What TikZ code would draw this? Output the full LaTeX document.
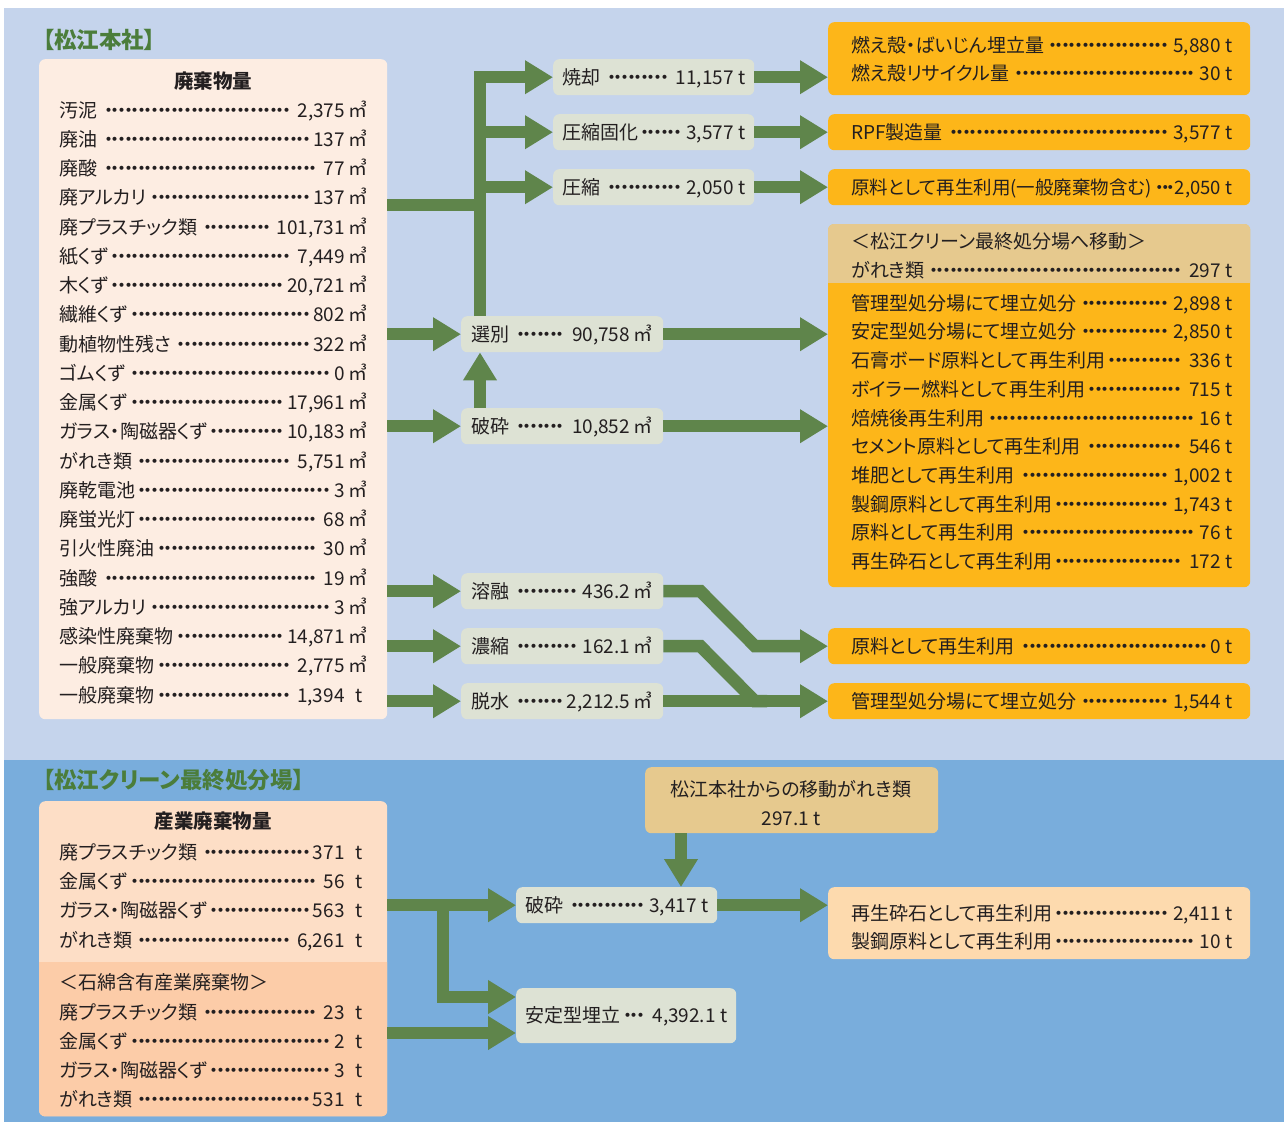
\documentclass[tikz,border=0pt]{standalone}
\usepackage{fontspec}
\setmainfont[RawFeature=+palt]{Noto Sans CJK JP}
\usetikzlibrary{arrows.meta,calc}
\definecolor{bgtop}{HTML}{C5D4EC}
\definecolor{bgbot}{HTML}{79ADDC}
\definecolor{cream}{HTML}{FDEDE2}
\definecolor{pchA}{HTML}{FDDEC6}
\definecolor{pchB}{HTML}{FCCCA8}
\definecolor{procc}{HTML}{DDE2D4}
\definecolor{orng}{HTML}{FDB619}
\definecolor{tanc}{HTML}{E6C98E}
\definecolor{rpeach}{HTML}{FDDAAE}
\definecolor{flowg}{HTML}{5F854B}
\definecolor{titleg}{HTML}{4B7D3B}
\definecolor{ink}{HTML}{231F20}
\newcommand\dleader{\hskip2pt\leaders\hbox to 6.6pt{\hss・\hss}\hfill\hskip2pt}
\newcommand\tdot{\hbox to 5.6pt{\hss・\hss}}
\tikzset{
  box/.style={rounded corners=6pt, inner sep=0pt, anchor=north west, draw=none},
  txt/.style={inner sep=0pt, text=ink, font=\fontsize{19}{21}\selectfont, text height=16pt, text depth=1.6pt},
  hdr/.style={inner sep=0pt, text=ink, font=\fontsize{19.5}{21}\selectfont\bfseries},
  ttl/.style={inner sep=0pt, text=titleg, font=\fontsize{22.5}{24}\selectfont\bfseries, anchor=west},
  flow/.style={draw=flowg, line width=12.5pt, line join=miter},
  arr/.style={flow, -{Triangle[length=28pt,width=32pt]}}
}
\newcommand\boxat[6]{\node[box, fill=#2, minimum width=#5pt, minimum height=#6pt] (#1) at (#3,#4) {};}
\newcommand\lrow[6]{\node[txt, anchor=west] (#1) at (#2,#3) {\hbox to #4pt{#5\dleader#6}};}
\newcommand\ptxt[4]{\node[txt, anchor=west] (#1) at (#2,#3) {#4};}
\begin{document}
\begin{tikzpicture}[x=1pt,y=-1pt]
\useasboundingbox (0,0) rectangle (1284,1122);
\fill[white] (0,0) rectangle (1284,1122);
\fill[bgtop] (4,8) rectangle (1284,760);
\fill[bgbot] (4,760) rectangle (1284,1122);

% ---------- boxes, upper part
\boxat{src}{cream}{39}{59}{348}{660}
\boxat{ash}{procc}{553}{59}{201}{36}
\boxat{comp}{procc}{553}{114}{201}{36}
\boxat{press}{procc}{553}{169}{201}{36}
\boxat{sel}{procc}{461}{316}{202}{36}
\boxat{crush}{procc}{461}{408}{202}{36}
\boxat{melt}{procc}{461}{573}{202}{36}
\boxat{conc}{procc}{461}{628}{202}{36}
\boxat{dewat}{procc}{461}{683}{202}{36}
\boxat{o1}{orng}{828}{22}{422}{73}
\boxat{o2}{orng}{828}{114}{422}{36}
\boxat{o3}{orng}{828}{169}{422}{36}
\boxat{big}{orng}{828}{224}{422}{363}
\begin{scope}
\clip (828,224) rectangle (1250,282);
\fill[tanc, rounded corners=6pt] (big.north west) rectangle (big.south east);
\end{scope}
\boxat{r0}{orng}{828}{628}{422}{36}
\boxat{r1}{orng}{828}{683}{422}{36}

% ---------- boxes, lower part
\boxat{src2}{pchA}{39}{801}{348}{315}
\begin{scope}
\clip (39,962) rectangle (387,1116);
\fill[pchB, rounded corners=6pt] (src2.north west) rectangle (src2.south east);
\end{scope}
\boxat{tan}{tanc}{645}{767}{293}{66}
\boxat{crush2}{procc}{516}{887}{201}{36}
\boxat{stab}{procc}{516}{988}{220}{55}
\boxat{rbox}{rpeach}{828}{887}{422}{72}

% ---------- connectors, upper part
\coordinate (j1) at (480,205);
\draw[flow] (j1 -| src.east) -- ($(j1)+(6.25,0)$);
\draw[arr] (sel.north -| j1) |- (ash.west);
\draw[arr] (comp.west -| j1) -- (comp.west);
\draw[arr] (press.west -| j1) -- (press.west);
\draw[arr] (crush.north -| j1) -- (sel.south -| j1);
\draw[arr] (sel.west -| src.east) -- (sel.west);
\draw[arr] (crush.west -| src.east) -- (crush.west);
\draw[arr] (melt.west -| src.east) -- (melt.west);
\draw[arr] (conc.west -| src.east) -- (conc.west);
\draw[arr] (dewat.west -| src.east) -- (dewat.west);
\draw[arr] (ash.east) -- (ash.east -| o1.west);
\draw[arr] (comp.east) -- (o2.west);
\draw[arr] (press.east) -- (o3.west);
\draw[arr] (sel.east) -- (sel.east -| big.west);
\draw[arr] (crush.east) -- (crush.east -| big.west);
\draw[arr] (melt.east) -- ++(37,0) -- ($(r0.west)+(-73,0)$) -- (r0.west);
\draw[flow] (conc.east) -- ++(37,0) -- ($(r1.west)+(-73,0)$) -- ++(12,0);
\draw[arr] (dewat.east) -- (r1.west);

% ---------- connectors, lower part
\coordinate (j2) at (443,905);
\coordinate (b1) at (516,997);
\coordinate (b2) at (516,1033);
\coordinate (k1) at (681,833);
\draw[arr] (crush2.west -| src2.east) -- (crush2.west);
\draw[arr] (j2) |- (b1);
\draw[arr] (b2 -| src2.east) -- (b2);
\draw[arr] (k1) -- (k1 |- crush2.north);
\draw[arr] (crush2.east) -- (crush2.east -| rbox.west);

% ---------- titles
\node[ttl] (t1) at (43,40) {【松江本社】};
\node[ttl] (t2) at (43,780) {【松江クリーン最終処分場】};

% ---------- source list, upper
\node[hdr] (h1) at (213,81) {廃棄物量};
\lrow{a1}{59}{110}{308}{汚泥}{2,375\,㎥}
\lrow{a2}{59}{139.25}{308}{廃油}{137\,㎥}
\lrow{a3}{59}{168.5}{308}{廃酸}{77\,㎥}
\lrow{a4}{59}{197.75}{308}{廃アルカリ}{137\,㎥}
\lrow{a5}{59}{227}{308}{廃プラスチック類}{101,731\,㎥}
\lrow{a6}{59}{256.25}{308}{紙くず}{7,449\,㎥}
\lrow{a7}{59}{285.5}{308}{木くず}{20,721\,㎥}
\lrow{a8}{59}{314.75}{308}{繊維くず}{802\,㎥}
\lrow{a9}{59}{344}{308}{動植物性残さ}{322\,㎥}
\lrow{a10}{59}{373.25}{308}{ゴムくず}{0\,㎥}
\lrow{a11}{59}{402.5}{308}{金属くず}{17,961\,㎥}
\lrow{a12}{59}{431.75}{308}{ガラス・陶磁器くず}{10,183\,㎥}
\lrow{a13}{59}{461}{308}{がれき類}{5,751\,㎥}
\lrow{a14}{59}{490.25}{308}{廃乾電池}{3\,㎥}
\lrow{a15}{59}{519.5}{308}{廃蛍光灯}{68\,㎥}
\lrow{a16}{59}{548.75}{308}{引火性廃油}{30\,㎥}
\lrow{a17}{59}{578}{308}{強酸}{19\,㎥}
\lrow{a18}{59}{607.25}{308}{強アルカリ}{3\,㎥}
\lrow{a19}{59}{636.5}{308}{感染性廃棄物}{14,871\,㎥}
\lrow{a20}{59}{665.75}{308}{一般廃棄物}{2,775\,㎥}
\lrow{a21}{59}{695}{303}{一般廃棄物}{1,394\hspace{0.55em}t}

% ---------- process texts
\lrow{p1}{562}{77}{183}{焼却}{11,157 t}
\lrow{p2}{562}{132}{183}{圧縮固化}{3,577 t}
\lrow{p3}{562}{187}{183}{圧縮}{2,050 t}
\lrow{p4}{471}{334}{181}{選別}{90,758\,㎥}
\lrow{p5}{471}{426}{181}{破砕}{10,852\,㎥}
\lrow{p6}{471}{591}{181}{溶融}{436.2\,㎥}
\lrow{p7}{471}{646}{181}{濃縮}{162.1\,㎥}
\lrow{p8}{471}{701}{181}{脱水}{2,212.5\,㎥}

% ---------- result texts, upper
\lrow{q1}{851}{45}{381}{燃え殻・ばいじん埋立量}{5,880 t}
\lrow{q2}{851}{73}{381}{燃え殻リサイクル量}{30 t}
\lrow{q3}{851}{132}{381}{RPF製造量}{3,577 t}
\node[txt, anchor=west, font=\fontsize{18.5}{21}\selectfont] (q4) at (851,187) {\hbox to 381pt{原料として再生利用(一般廃棄物含む)\hfill\tdot\tdot\tdot\hskip1pt 2,050 t}};
\ptxt{q5}{851}{241}{＜松江クリーン最終処分場へ移動＞}
\lrow{q6}{851}{270}{381}{がれき類}{297 t}
\lrow{q7}{851}{303}{381}{管理型処分場にて埋立処分}{2,898 t}
\lrow{q8}{851}{331.7}{381}{安定型処分場にて埋立処分}{2,850 t}
\lrow{q9}{851}{360.4}{381}{石膏ボード原料として再生利用}{336 t}
\lrow{q10}{851}{389.1}{381}{ボイラー燃料として再生利用}{715 t}
\lrow{q11}{851}{417.8}{381}{焙焼後再生利用}{16 t}
\lrow{q12}{851}{446.5}{381}{セメント原料として再生利用}{546 t}
\lrow{q13}{851}{475.2}{381}{堆肥として再生利用}{1,002 t}
\lrow{q14}{851}{503.9}{381}{製鋼原料として再生利用}{1,743 t}
\lrow{q15}{851}{532.6}{381}{原料として再生利用}{76 t}
\lrow{q16}{851}{561.3}{381}{再生砕石として再生利用}{172 t}
\lrow{q17}{851}{646}{381}{原料として再生利用}{0 t}
\lrow{q18}{851}{701}{381}{管理型処分場にて埋立処分}{1,544 t}

% ---------- lower texts
\node[hdr] (h2) at (213,821) {産業廃棄物量};
\lrow{c1}{59}{852}{303}{廃プラスチック類}{371\hspace{0.55em}t}
\lrow{c2}{59}{881.3}{303}{金属くず}{56\hspace{0.55em}t}
\lrow{c3}{59}{910.6}{303}{ガラス・陶磁器くず}{563\hspace{0.55em}t}
\lrow{c4}{59}{940}{303}{がれき類}{6,261\hspace{0.55em}t}
\ptxt{c5}{59}{982}{＜石綿含有産業廃棄物＞}
\lrow{c6}{59}{1012}{303}{廃プラスチック類}{23\hspace{0.55em}t}
\lrow{c7}{59}{1041}{303}{金属くず}{2\hspace{0.55em}t}
\lrow{c8}{59}{1070}{303}{ガラス・陶磁器くず}{3\hspace{0.55em}t}
\lrow{c9}{59}{1099}{303}{がれき類}{531\hspace{0.55em}t}

\node[txt] (m1) at (791,789) {松江本社からの移動がれき類};
\node[txt] (m2) at (791,818) {297.1 t};
\lrow{m3}{525}{905}{183}{破砕}{3,417 t}
\lrow{m4}{525}{1015}{202}{安定型埋立}{4,392.1 t}
\lrow{m5}{851}{913}{381}{再生砕石として再生利用}{2,411 t}
\lrow{m6}{851}{941}{381}{製鋼原料として再生利用}{10 t}
\end{tikzpicture}
\end{document}
